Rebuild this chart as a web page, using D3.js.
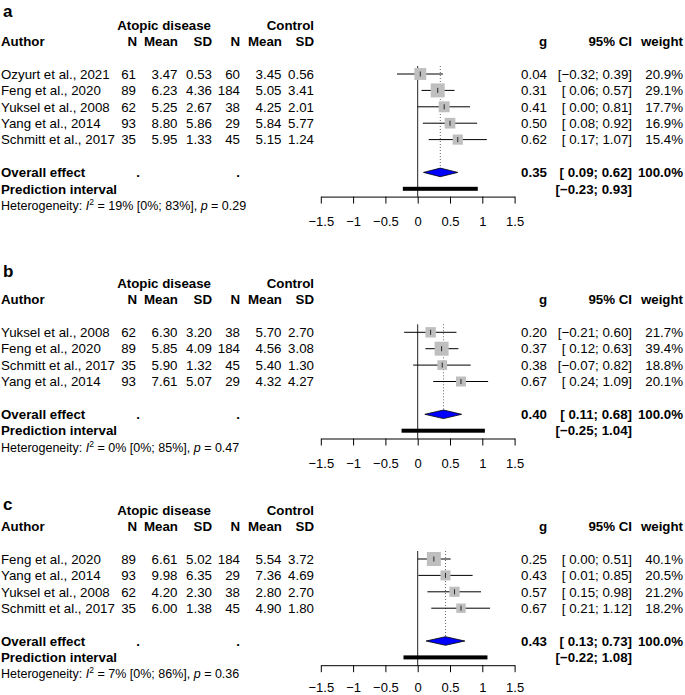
<!DOCTYPE html>
<html>
<head>
<meta charset="utf-8">
<script src="https://cdn.jsdelivr.net/npm/d3@7"></script>
<style>
  html, body { margin: 0; padding: 0; background: #fff; }
  svg { display: block; font-family: "Liberation Sans", Arial, Helvetica, sans-serif; }
</style>
</head>
<body>
<svg id="chart" width="685" height="695"></svg>
<script>
// ---------------- DATA ----------------
const panelLabels = ["a", "b", "c"];
const authors = [
  ["Ozyurt et al., 2021", "Feng et al., 2020", "Yuksel et al., 2008", "Yang et al., 2014", "Schmitt et al., 2017"],
  ["Yuksel et al., 2008", "Feng et al., 2020", "Schmitt et al., 2017", "Yang et al., 2014"],
  ["Feng et al., 2020", "Yang et al., 2014", "Yuksel et al., 2008", "Schmitt et al., 2017"]
];
const nAtopic     = [[61, 89, 62, 93, 35], [62, 89, 35, 93], [89, 93, 62, 35]];
const meanAtopic  = [[3.47, 6.23, 5.25, 8.80, 5.95], [6.30, 5.85, 5.90, 7.61], [6.61, 9.98, 4.20, 6.00]];
const sdAtopic    = [[0.53, 4.36, 2.67, 5.86, 1.33], [3.20, 4.09, 1.32, 5.07], [5.02, 6.35, 2.30, 1.38]];
const nControl    = [[60, 184, 38, 29, 45], [38, 184, 45, 29], [184, 29, 38, 45]];
const meanControl = [[3.45, 5.05, 4.25, 5.84, 5.15], [5.70, 4.56, 5.40, 4.32], [5.54, 7.36, 2.80, 4.90]];
const sdControl   = [[0.56, 3.41, 2.01, 5.77, 1.24], [2.70, 3.08, 1.30, 4.27], [3.72, 4.69, 2.70, 1.80]];
const hedgesG     = [[0.04, 0.31, 0.41, 0.50, 0.62], [0.20, 0.37, 0.38, 0.67], [0.25, 0.43, 0.57, 0.67]];
const ciLower     = [[-0.32, 0.06, 0.00, 0.08, 0.17], [-0.21, 0.12, -0.07, 0.24], [0.00, 0.01, 0.15, 0.21]];
const ciUpper     = [[0.39, 0.57, 0.81, 0.92, 1.07], [0.60, 0.63, 0.82, 1.09], [0.51, 0.85, 0.98, 1.12]];
const weights     = [[20.9, 29.1, 17.7, 16.9, 15.4], [21.7, 39.4, 18.8, 20.1], [40.1, 20.5, 21.2, 18.2]];
const overallG     = [0.35, 0.40, 0.43];
const overallLower = [0.09, 0.11, 0.13];
const overallUpper = [0.62, 0.68, 0.73];
const predLower    = [-0.23, -0.25, -0.22];
const predUpper    = [0.93, 1.04, 1.08];
const i2Value = [19, 0, 7];
const i2Lower = [0, 0, 0];
const i2Upper = [83, 85, 86];
const pHet    = [0.29, 0.47, 0.36];
const axisTicks = [-1.5, -1, -0.5, 0, 0.5, 1, 1.5];

// ---------------- LAYOUT ----------------
const svg = d3.select("#chart");
const FS = 13.3;
const rowH = 16.4;
const firstRowY = [74, 332.3, 559];
const letterY = [17, 277, 510];
const tickPad = [13.5, 13.5, 11];
const x = d3.scaleLinear().domain([-1.5, 1.5]).range([320.8, 514.6]);
const fmt2 = d3.format(".2f");
const MINUS = "\u2212";
const signed = v => (v < 0 ? MINUS + fmt2(Math.abs(v)) : " " + fmt2(v));
const plain = v => (v < 0 ? MINUS + fmt2(Math.abs(v)) : fmt2(v));
const ciText = (lo, hi) => "[" + signed(lo) + "; " + plain(hi) + "]";
const BASE = 4.7; // center -> baseline offset

// column right edges
const colN1 = 136, colM1 = 177.5, colS1 = 212, colN2 = 240, colM2 = 281.5, colS2 = 314;
const colG = 547, colCI = 632, colW = 683;

function txt(g, xx, yc, s, opts = {}) {
  return g.append("text")
    .attr("x", xx).attr("y", yc + BASE)
    .attr("text-anchor", opts.anchor || "start")
    .attr("font-size", opts.size || FS)
    .attr("font-weight", opts.bold ? "bold" : null)
    .attr("fill", "#000")
    .text(s);
}

panelLabels.forEach((lab, p) => {
  const g = svg.append("g");
  const y0 = firstRowY[p];
  const n = authors[p].length;
  const rowY = i => y0 + i * rowH;
  const overallY = rowY(n - 1) + 2 * rowH;
  const predY = overallY + rowH;
  const hetY = predY + rowH;
  const axisY = predY + 7.8;

  // panel letter
  g.append("text").attr("x", 3).attr("y", letterY[p])
    .attr("font-size", 17).attr("font-weight", "bold").text(lab);

  // headers
  const hY1 = y0 - 49, hY2 = y0 - 32.8;
  txt(g, 211, hY1, "Atopic disease", { anchor: "end", bold: true });
  txt(g, colS2, hY1, "Control", { anchor: "end", bold: true });
  txt(g, 1, hY2, "Author", { bold: true });
  txt(g, colN1 + 1, hY2, "N", { anchor: "end", bold: true });
  txt(g, colM1 + 0.5, hY2, "Mean", { anchor: "end", bold: true });
  txt(g, colS1, hY2, "SD", { anchor: "end", bold: true });
  txt(g, colN2, hY2, "N", { anchor: "end", bold: true });
  txt(g, colM2 + 0.5, hY2, "Mean", { anchor: "end", bold: true });
  txt(g, colS2, hY2, "SD", { anchor: "end", bold: true });
  txt(g, colG, hY2, "g", { anchor: "end", bold: true });
  txt(g, colCI, hY2, "95% CI", { anchor: "end", bold: true });
  txt(g, colW, hY2, "weight", { anchor: "end", bold: true });

  // study rows text
  authors[p].forEach((a, i) => {
    const yy = rowY(i);
    txt(g, 1, yy, a);
    txt(g, colN1, yy, String(nAtopic[p][i]), { anchor: "end" });
    txt(g, colM1, yy, fmt2(meanAtopic[p][i]), { anchor: "end" });
    txt(g, colS1, yy, fmt2(sdAtopic[p][i]), { anchor: "end" });
    txt(g, colN2, yy, String(nControl[p][i]), { anchor: "end" });
    txt(g, colM2, yy, fmt2(meanControl[p][i]), { anchor: "end" });
    txt(g, colS2, yy, fmt2(sdControl[p][i]), { anchor: "end" });
    txt(g, colG, yy, fmt2(hedgesG[p][i]), { anchor: "end" });
    txt(g, colCI, yy, ciText(ciLower[p][i], ciUpper[p][i]), { anchor: "end" });
    txt(g, colW, yy, d3.format(".1f")(weights[p][i]) + "%", { anchor: "end" });
  });

  // overall & prediction text
  txt(g, 1, overallY, "Overall effect", { bold: true });
  txt(g, 140, overallY, ".", { anchor: "end", bold: true });
  txt(g, 240, overallY, ".", { anchor: "end", bold: true });
  txt(g, colG, overallY, fmt2(overallG[p]), { anchor: "end", bold: true });
  txt(g, colCI, overallY, ciText(overallLower[p], overallUpper[p]), { anchor: "end", bold: true });
  txt(g, colW, overallY, "100.0%", { anchor: "end", bold: true });
  txt(g, 1, predY, "Prediction interval", { bold: true });
  txt(g, colCI, predY, ciText(predLower[p], predUpper[p]), { anchor: "end", bold: true });

  // heterogeneity
  const ht = g.append("text").attr("x", 1).attr("y", hetY + 4.4).attr("font-size", 12.5);
  ht.append("tspan").text("Heterogeneity: ");
  ht.append("tspan").attr("font-style", "italic").text("I");
  ht.append("tspan").attr("font-size", 8.5).attr("dy", -5).text("2");
  ht.append("tspan").attr("dy", 5).text(" = " + i2Value[p] + "% [" + i2Lower[p] + "%; " + i2Upper[p] + "%], ");
  ht.append("tspan").attr("font-style", "italic").text("p");
  ht.append("tspan").text(" = " + fmt2(pHet[p]));

  // reference lines
  const topY = y0 - 8;
  g.append("line").attr("x1", x(0)).attr("x2", x(0)).attr("y1", topY).attr("y2", axisY)
    .attr("stroke", "#222").attr("stroke-width", 1);
  g.append("line").attr("x1", x(overallG[p])).attr("x2", x(overallG[p]))
    .attr("y1", topY).attr("y2", overallY - 4.3)
    .attr("stroke", "#666").attr("stroke-width", 1).attr("stroke-dasharray", "1,2");

  // studies
  const sz = d3.scaleSqrt().domain([0, d3.max(weights[p])]).range([0, 14]);
  authors[p].forEach((a, i) => {
    const yy = rowY(i);
    g.append("line").attr("x1", x(ciLower[p][i])).attr("x2", x(ciUpper[p][i]))
      .attr("y1", yy).attr("y2", yy).attr("stroke", "#000").attr("stroke-width", 1);
    const s = sz(weights[p][i]);
    g.append("rect").attr("x", x(hedgesG[p][i]) - s / 2).attr("y", yy - s / 2)
      .attr("width", s).attr("height", s).attr("fill", "#bfbfbf");
    g.append("line").attr("x1", x(hedgesG[p][i])).attr("x2", x(hedgesG[p][i]))
      .attr("y1", yy - 2.5).attr("y2", yy + 2.5).attr("stroke", "#000").attr("stroke-width", 0.8);
  });

  // diamond
  const dh = 4.3;
  g.append("path")
    .attr("d", `M${x(overallLower[p])},${overallY}L${x(overallG[p])},${overallY - dh}L${x(overallUpper[p])},${overallY}L${x(overallG[p])},${overallY + dh}Z`)
    .attr("fill", "#0000ff").attr("stroke", "#000").attr("stroke-width", 0.8);

  // prediction interval bar
  g.append("rect").attr("x", x(predLower[p])).attr("y", predY - 2)
    .attr("width", x(predUpper[p]) - x(predLower[p])).attr("height", 4).attr("fill", "#000");

  // axis
  const ax = g.append("g").attr("transform", `translate(0,${axisY})`)
    .call(d3.axisBottom(x).tickValues(axisTicks).tickFormat(d3.format("~g"))
      .tickSize(7).tickSizeOuter(0).tickPadding(tickPad[p]));
  ax.selectAll("path, line").attr("stroke", "#000");
  ax.selectAll("text").attr("font-size", 13).attr("fill", "#000")
    .attr("font-family", "\"Liberation Sans\", Arial, Helvetica, sans-serif");
});
</script>
</body>
</html>
